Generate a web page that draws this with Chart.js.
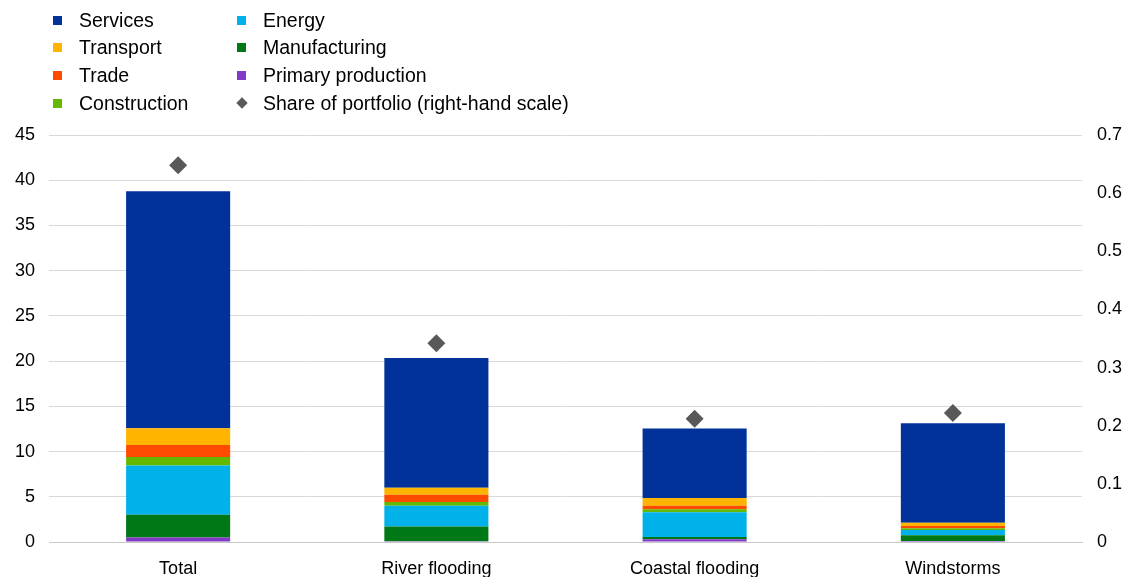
<!DOCTYPE html>
<html>
<head>
<meta charset="utf-8">
<script src="https://cdn.jsdelivr.net/npm/chart.js@4/dist/chart.umd.min.js"></script>
<style>
  body { margin: 0; background: #fff; font-family: "Liberation Sans", Arial, sans-serif; }
  #wrap { position: relative; width: 1125px; height: 577px; }
  #legend { position: absolute; left: 0; top: 0; font-size: 19.5px; color: #000; }
  .item { position: absolute; white-space: nowrap; line-height: 24px; }
  .box { position: absolute; width: 9px; height: 9px; top: 8px; }
  .dia { position: absolute; width: 8px; height: 8px; top: 8px; left: 1px; background: #595959; transform: rotate(45deg); }
</style>
</head>
<body>
<div id="wrap">
  <canvas id="myChart" width="1125" height="577"></canvas>
  <div id="legend"></div>
</div>
<script>
// categories and series
const categories = ['Total', 'River flooding', 'Coastal flooding', 'Windstorms']
const primary = [0.5, 0.08, 0.3, 0.1]
const manufacturing = [2.5, 1.62, 0.25, 0.64]
const energy = [5.45, 2.32, 2.73, 0.6]
const construction = [0.95, 0.4, 0.33, 0.17]
const trade = [1.33, 0.8, 0.4, 0.27]
const transport = [1.85, 0.78, 0.85, 0.36]
const services = [26.2, 14.35, 7.7, 11.0]
const share = [0.648, 0.342, 0.212, 0.222]

const colors = {
  services: '#003299',
  transport: '#FFB400',
  trade: '#FF4B00',
  construction: '#65B800',
  energy: '#00B1EA',
  manufacturing: '#007816',
  primary: '#8139C6',
  share: '#595959',
}

// legend, two columns like the original
const legendRows = [
  ['Services', colors.services, 53, 8],
  ['Transport', colors.transport, 53, 35],
  ['Trade', colors.trade, 53, 63],
  ['Construction', colors.construction, 53, 91],
  ['Energy', colors.energy, 237, 8],
  ['Manufacturing', colors.manufacturing, 237, 35],
  ['Primary production', colors.primary, 237, 63],
  ['Share of portfolio (right-hand scale)', null, 237, 91],
]
const legend = document.getElementById('legend')
legendRows.forEach(([label, color, x, y]) => {
  const el = document.createElement('div')
  el.className = 'item'
  el.style.left = x + 'px'
  el.style.top = y + 'px'
  el.style.paddingLeft = '26px'
  el.innerHTML = (color ? '<span class="box" style="left:0;background:' + color + '"></span>' : '<span class="dia"></span>') + label
  legend.appendChild(el)
})

const bar = (label, data, color) => ({
  label, data, backgroundColor: color, stack: 's', order: 1,
  barPercentage: 0.403, categoryPercentage: 1,
})

const tickFont = { family: '"Liberation Sans", Arial, sans-serif', size: 18 }

new Chart(document.getElementById('myChart').getContext('2d'), {
  type: 'bar',
  data: {
    labels: categories,
    datasets: [
      bar('Primary production', primary, colors.primary),
      bar('Manufacturing', manufacturing, colors.manufacturing),
      bar('Energy', energy, colors.energy),
      bar('Construction', construction, colors.construction),
      bar('Trade', trade, colors.trade),
      bar('Transport', transport, colors.transport),
      bar('Services', services, colors.services),
      {
        type: 'line',
        label: 'Share of portfolio (right-hand scale)',
        data: share,
        yAxisID: 'y1',
        showLine: false,
        pointStyle: 'rectRot',
        pointRadius: 9,
        pointHoverRadius: 9,
        backgroundColor: colors.share,
        borderColor: colors.share,
        borderWidth: 0,
        order: 0,
      },
    ],
  },
  options: {
    responsive: false,
    animation: false,
    layout: { padding: { top: 135, left: 0, right: 0, bottom: 0 } },
    plugins: { legend: { display: false }, tooltip: { enabled: false } },
    scales: {
      x: {
        stacked: true,
        grid: { display: false },
        border: { color: '#c8c8c8', width: 1 },
        ticks: { font: tickFont, color: '#000', padding: 8 },
        afterFit: (s) => { s.height = 35 },
      },
      y: {
        stacked: true,
        min: 0, max: 45,
        ticks: { stepSize: 5, font: tickFont, color: '#000', padding: 14 },
        grid: { color: '#d9d9d9', drawTicks: false },
        border: { display: false },
        afterFit: (s) => { s.width = 49 },
      },
      y1: {
        position: 'right',
        min: 0, max: 0.7,
        ticks: { stepSize: 0.1, font: tickFont, color: '#000', padding: 15 },
        grid: { display: false, drawTicks: false },
        border: { display: false },
        afterFit: (s) => { s.width = 43 },
      },
    },
  },
})
</script>
</body>
</html>
